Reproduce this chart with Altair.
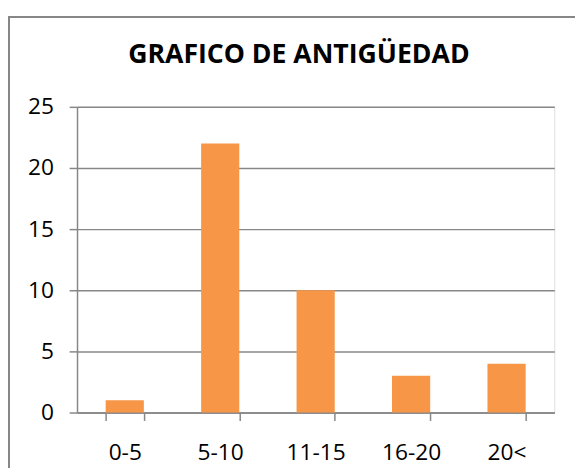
import altair as alt
import pandas as pd

categories = ["0-5", "5-10", "11-15", "16-20", "20<"]
values = [1, 22, 10, 3, 4]
y_ticks = [0, 5, 10, 15, 20, 25]
title_text = "GRAFICO DE ANTIGÜEDAD"

df = pd.DataFrame({"cat": categories, "val": values})

GRAY = "#878787"
FONT = "Open Sans"

bars = alt.Chart(df).mark_bar(color="#F79646").encode(
    x=alt.X(
        "cat:N",
        sort=categories,
        title=None,
        scale=alt.Scale(paddingInner=0.6, paddingOuter=0.3),
        axis=alt.Axis(
            labelAngle=0,
            labelFont=FONT,
            labelFontSize=23,
            labelColor="black",
            labelPadding=22,
            tickBand="extent",
            tickSize=8,
            tickColor=GRAY,
            tickWidth=1.5,
            domainColor=GRAY,
            domainWidth=1.5,
            grid=False,
        ),
    ),
    y=alt.Y(
        "val:Q",
        title=None,
        scale=alt.Scale(domain=[0, 25], nice=False),
        axis=alt.Axis(
            values=y_ticks,
            labelFont=FONT,
            labelFontSize=23,
            labelColor="black",
            labelPadding=16,
            tickSize=8,
            tickColor=GRAY,
            tickWidth=1.5,
            domainColor=GRAY,
            domainWidth=1.5,
            grid=True,
            gridColor=GRAY,
            gridWidth=1.5,
        ),
    ),
)

border_top = alt.Chart(df).mark_rule(color=GRAY, strokeWidth=2).encode(
    x=alt.value(-70), x2=alt.value(520), y=alt.value(-91)
)
border_left = alt.Chart(df).mark_rule(color=GRAY, strokeWidth=2).encode(
    x=alt.value(-69), y=alt.value(-92), y2=alt.value(400)
)

chart = (
    alt.layer(bars, border_top, border_left)
    .properties(
        width=484,
        height=310,
        padding={"left": 70, "top": 97, "right": 21, "bottom": 53},
        autosize=alt.AutoSizeParams(type="none"),
        title=alt.TitleParams(
            text=title_text,
            font=FONT,
            fontSize=27,
            fontWeight="bold",
            color="black",
            anchor="middle",
            dx=-17,
            offset=-55,
        ),
    )
    .configure_view(stroke=None)
    .configure(background="white")
)

chart.save("out.html", embed_options={"renderer": "svg", "actions": False})
